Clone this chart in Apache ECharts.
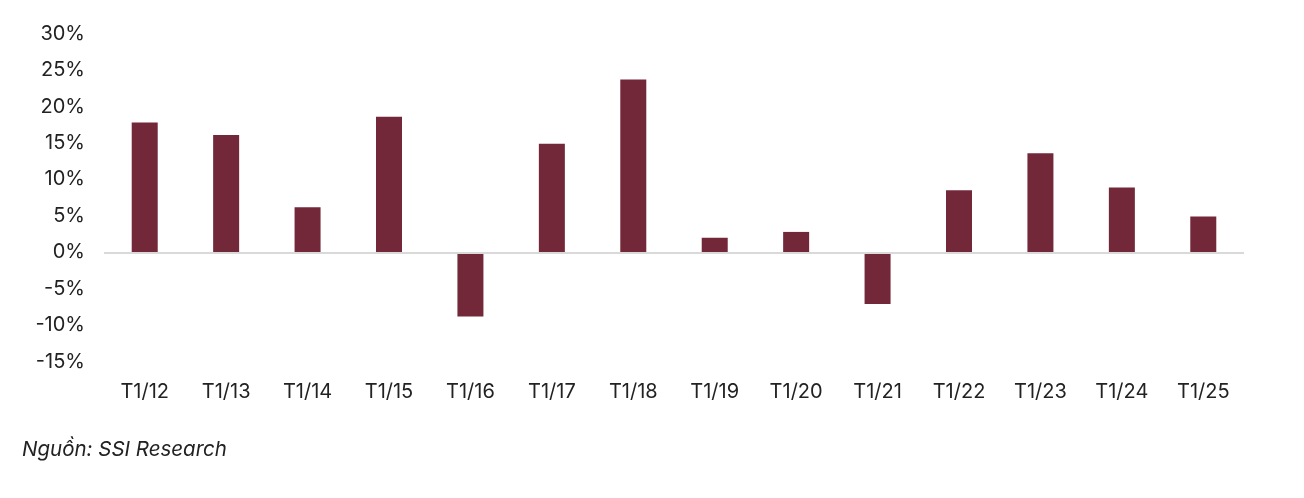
<!DOCTYPE html>
<html>
<head>
<meta charset="utf-8">
<script src="https://cdn.jsdelivr.net/npm/echarts@6/dist/echarts.min.js"></script>
<style>
html,body{margin:0;padding:0;background:#fff;}
#c{width:1304px;height:498px;}
</style>
</head>
<body>
<div id="c"></div>
<script>
const categories = ['T1/12','T1/13','T1/14','T1/15','T1/16','T1/17','T1/18','T1/19','T1/20','T1/21','T1/22','T1/23','T1/24','T1/25'];
const values = [17.8, 16.1, 6.2, 18.6, -8.8, 14.9, 23.7, 2.0, 2.8, -7.1, 8.5, 13.6, 8.9, 4.9];
const sourceText = 'Nguồn: SSI Research';

const chart = echarts.init(document.getElementById('c'), null, {renderer:'canvas'});
chart.setOption({
  animation: false,
  backgroundColor: '#fff',
  textStyle: {fontFamily: 'Inter'},
  graphic: [{
    type: 'text', left: 22, top: 440,
    style: {text: sourceText, font: 'italic 20.5px Inter', fill: '#222'}
  }],
  grid: {left: 104, right: 60, top: 33.6, bottom: 136.3},
  xAxis: {
    type: 'category',
    data: categories,
    axisLine: {show: false, onZero: false},
    axisTick: {show: false},
    axisLabel: {color: '#222', fontSize: 20, margin: 20, fontFamily: 'Inter'}
  },
  yAxis: {
    type: 'value',
    min: -15, max: 30, interval: 5,
    axisLine: {show: false},
    axisTick: {show: false},
    splitLine: {show: false},
    axisLabel: {color: '#222', fontSize: 20, margin: 19, fontFamily: 'Inter', formatter: v => v + '%'}
  },
  series: [{
    type: 'bar',
    data: values,
    barWidth: 26,
    itemStyle: {color: '#722839'},
    markLine: {
      silent: true,
      symbol: 'none',
      label: {show: false},
      lineStyle: {color: '#d9d9d9', width: 2, type: 'solid'},
      data: [{yAxis: 0}]
    }
  }]
});
</script>
</body>
</html>
